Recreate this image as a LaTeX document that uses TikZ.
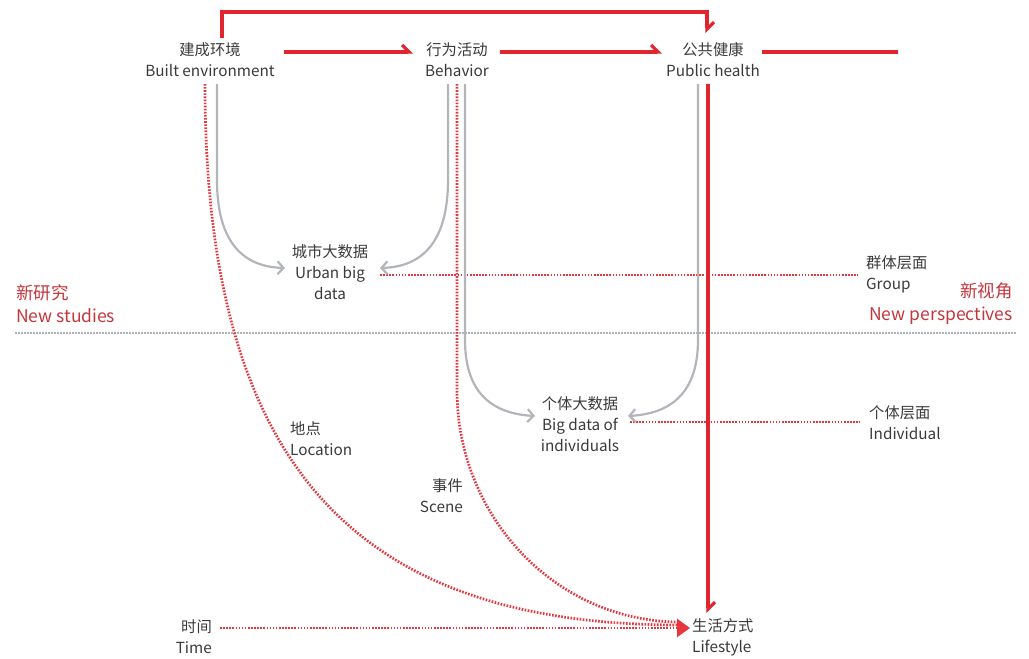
\documentclass[tikz,border=0pt]{standalone}
\usepackage{fontspec}
\setmainfont{Noto Sans CJK SC}
\usetikzlibrary{arrows.meta,calc}
\definecolor{txt}{HTML}{3A3A3A}
\definecolor{redl}{HTML}{E1252D}
\definecolor{redd}{HTML}{E6363E}
\definecolor{redt}{HTML}{C3363C}
\definecolor{grayc}{HTML}{B2B5BA}
\definecolor{grayd}{HTML}{AEB3BA}
\tikzset{
  lbl/.style={inner sep=0pt,text=txt,font=\fontsize{15.3}{21}\selectfont},
  redlbl/.style={inner sep=0pt,text=redt,font=\fontsize{17.5}{23}\selectfont},
  redarrow/.style={draw=redl,line width=3.2pt,-{Straight Barb[harpoon,length=7pt,width=14pt]}},
  redline/.style={draw=redl,line width=3.2pt},
  reddot/.style={draw=redd,line width=2.7pt,dash pattern=on 1.6pt off 1.5pt},
  graycurve/.style={draw=grayc,line width=2.2pt,-{Straight Barb[length=6pt,width=13pt]}},
  graydot/.style={draw=grayd,line width=2.2pt,dash pattern=on 1.5pt off 1.5pt},
}
\begin{document}
\begin{tikzpicture}[x=1pt,y=-1pt]
\useasboundingbox (0,0) rectangle (1029,659);
% nodes
\node[lbl,align=center] (be) at (210,60) {建成环境\\Built environment};
\node[lbl,align=center] (bh) at (457,60) {行为活动\\Behavior};
\node[lbl,align=center] (ph) at (713,60) {公共健康\\Public health};
\node[lbl,align=center] (ub) at (330,272) {城市大数据\\Urban big\\data};
\node[lbl,align=center] (ind) at (580,424) {个体大数据\\Big data of\\individuals};
\node[lbl,align=left,anchor=west] (grp) at (866,274) {群体层面\\Group};
\node[lbl,align=left,anchor=west] (indv) at (869,423) {个体层面\\Individual};
\node[lbl,align=left,anchor=west] (loc) at (290,439) {地点\\Location};
\node[lbl,align=right,anchor=east] (scn) at (463,496) {事件\\Scene};
\node[lbl,align=right,anchor=east] (time) at (212,637) {时间\\Time};
\node[lbl,align=left,anchor=west] (ls) at (692,637) {生活方式\\Lifestyle};
\node[redlbl,align=left,anchor=west] (ns) at (16,304) {新研究\\New studies};
\node[redlbl,align=right,anchor=east] (np) at (1013,304) {新视角\\New perspectives};
\coordinate (sepL) at (15,333);
\coordinate (sepR) at (1016,333);
\coordinate (phout) at (898,52);
% separator
\draw[graydot] (sepL) -- (sepR);
% red dotted
\draw[reddot] ($(ub)+(50,3)$) -- ($(grp.west)+(-8,1)$);
\draw[reddot] ($(ind)+(50,-2)$) -- ($(indv.west)+(-9,-1)$);
\draw[reddot] ($(be)+(-5,24)$) .. controls +(0,376) and +(-330,0) .. ($(ls.west)+(-12,-12)$);
\draw[reddot] ($(bh)+(0,24)$) -- ++(0,306) .. controls +(0,128) and +(-123,0) .. ($(ls.west)+(-12,-15)$);
\draw[reddot,-{Triangle[length=13pt,width=18pt]}] ($(time.east)+(8,-9)$) -- ($(ls.west)+(-2,-9)$);
% gray curves
\draw[graycurve] ($(be)+(7,24)$) -- ++(0,96) .. controls +(0,70) and +(-35,-1) .. ($(ub)+(-45,-4)$);
\draw[graycurve] ($(bh)+(-9,24)$) -- ++(0,96) .. controls +(0,70) and +(35,-1) .. ($(ub)+(50,-4)$);
\draw[graycurve] ($(bh)+(8,24)$) -- ++(0,256) .. controls +(0,60) and +(-35,-2) .. ($(ind)+(-45,-8)$);
\draw[graycurve] ($(ph)+(-15,24)$) -- ++(0,256) .. controls +(0,60) and +(35,-2) .. ($(ind)+(48,-8)$);
% red solid
\draw[redarrow] ($(be)+(12,-22)$) -- ++(0,-26) -| ($(ph)+(-6,-27)$);
\draw[redarrow] ($(be)+(74,-8)$) -- ($(bh)+(-44,-8)$);
\draw[redarrow] ($(bh)+(43,-8)$) -- ($(ph)+(-51,-8)$);
\draw[redline] ($(ph)+(49,-8)$) -- (phout);
\draw[redarrow] ($(ph)+(-5,24)$) -- ($(ls.west)+(16,-24)$);
\end{tikzpicture}
\end{document}
